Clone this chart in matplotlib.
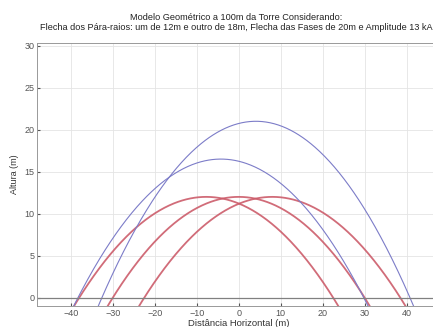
import numpy as np
import matplotlib
matplotlib.use("Agg")
import matplotlib.pyplot as plt

# 数据: 每条曲线的左右零点和最高点
blue_left = [-32.6, -38.3]
blue_right = [40.8, 29.8]
blue_peak = [21.0, 16.5]

red_left = [-38.0, -30.0, -22.5]
red_right = [22.5, 30.0, 38.5]
red_peak = [12.0, 12.0, 12.0]

x_ticks = [-40, -30, -20, -10, 0, 10, 20, 30, 40]
y_ticks = [0, 5, 10, 15, 20, 25, 30]

titulo1 = "Modelo Geométrico a 100m da Torre Considerando:"
titulo2 = ("Flecha dos Pára-raios: um de 12m e outro de 18m, "
           "Flecha das Fases de 20m e Amplitude 13 kA")

plt.rcParams['font.family'] = ['Liberation Sans', 'DejaVu Sans']

W, H = 433, 327
fig = plt.figure(figsize=(W / 100, H / 100), dpi=100)
ax = fig.add_axes([0.086, 0.064, 0.95, 0.804])


def arco(x0, x1, h):
    # parábola que passa pelos dois zeros com altura máxima h
    c = (x0 + x1) / 2
    w = (x1 - x0) / 2
    xs = np.linspace(x0 - 2, x1 + 2, 400)
    return xs, h * (1 - ((xs - c) / w) ** 2)


for a, b, h in zip(red_left, red_right, red_peak):
    xs, ys = arco(a, b, h)
    ax.plot(xs, ys, color='#cc5c6a', lw=1.3, alpha=0.9)

for a, b, h in zip(blue_left, blue_right, blue_peak):
    xs, ys = arco(a, b, h)
    ax.plot(xs, ys, color='#7c7cc8', lw=0.8)

ax.axhline(0, color='#808080', lw=0.9)

ax.set_xlim(-48, 50)
ax.set_ylim(-1, 30.3)
ax.set_xticks(x_ticks)
ax.set_yticks(y_ticks)
ax.grid(color='#e4e4e4', linestyle='-', linewidth=0.6)
ax.set_axisbelow(True)
ax.tick_params(direction='in', length=2, labelsize=6.5, colors='#555555', pad=2)
for s in ax.spines.values():
    s.set_color('#999999')
    s.set_linewidth(0.7)

ax.set_ylabel('Altura (m)', fontsize=6.5, color='#333333', labelpad=4)
fig.text(238.5 / W, 1 - 323 / H, 'Distância Horizontal (m)', fontsize=6.8,
         color='#333333', ha='center', va='center')
fig.text(236 / W, 1 - 17 / H, titulo1, fontsize=6.6, color='#222222',
         ha='center', va='center')
fig.text(236 / W, 1 - 27 / H, titulo2, fontsize=6.6, color='#222222',
         ha='center', va='center')

plt.savefig('out.png', dpi=100)
